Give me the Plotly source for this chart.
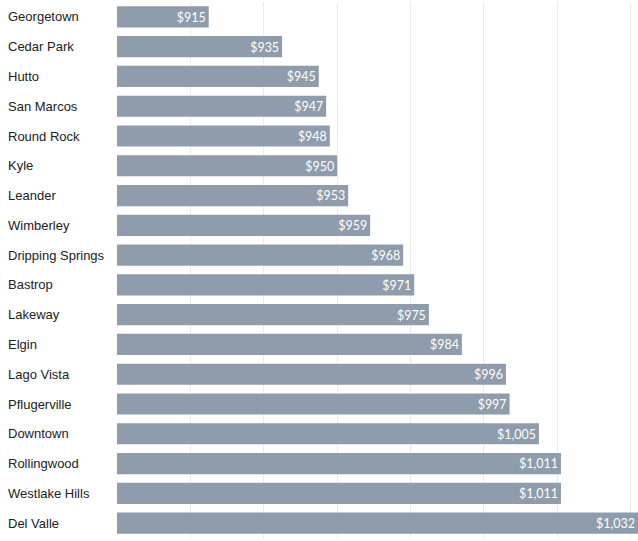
import plotly.graph_objects as go

cities = ['Georgetown', 'Cedar Park', 'Hutto', 'San Marcos', 'Round Rock', 'Kyle',
          'Leander', 'Wimberley', 'Dripping Springs', 'Bastrop', 'Lakeway', 'Elgin',
          'Lago Vista', 'Pflugerville', 'Downtown', 'Rollingwood', 'Westlake Hills',
          'Del Valle']
rent = [915, 935, 945, 947, 948, 950, 953, 959, 968, 971, 975, 984, 996, 997,
        1005, 1011, 1011, 1032]

bar_color = '#8e9cab'

fig = go.Figure(go.Bar(
    x=rent,
    y=cities,
    orientation='h',
    marker=dict(color=bar_color, line=dict(width=0)),
    texttemplate='$%{x:,}',
    textposition='inside',
    insidetextanchor='end',
    textfont=dict(family='Lato, sans-serif', size=14, color='white'),
    hoverinfo='skip',
))

# city names left-aligned in the margin
annotations = [
    dict(text=c, x=-0.2135, xref='paper', y=c, yref='y', xanchor='left',
         showarrow=False, font=dict(family='Liberation Sans, Arial', size=13,
                                    color='#222222'))
    for c in cities
]

fig.update_layout(
    width=638,
    height=541,
    margin=dict(l=117, r=0, t=2, b=3),
    plot_bgcolor='white',
    paper_bgcolor='white',
    bargap=0.29,
    showlegend=False,
    annotations=annotations,
    xaxis=dict(range=[890, 1032], tick0=890, dtick=20, showticklabels=False,
               showgrid=True, gridcolor='#ebebeb', gridwidth=1, zeroline=False,
               showline=False),
    yaxis=dict(autorange='reversed', showticklabels=False, showgrid=False,
               zeroline=False, showline=False),
)

fig.write_html("out.html", config={'displayModeBar': False},
               post_script="document.body.style.margin='0';")
